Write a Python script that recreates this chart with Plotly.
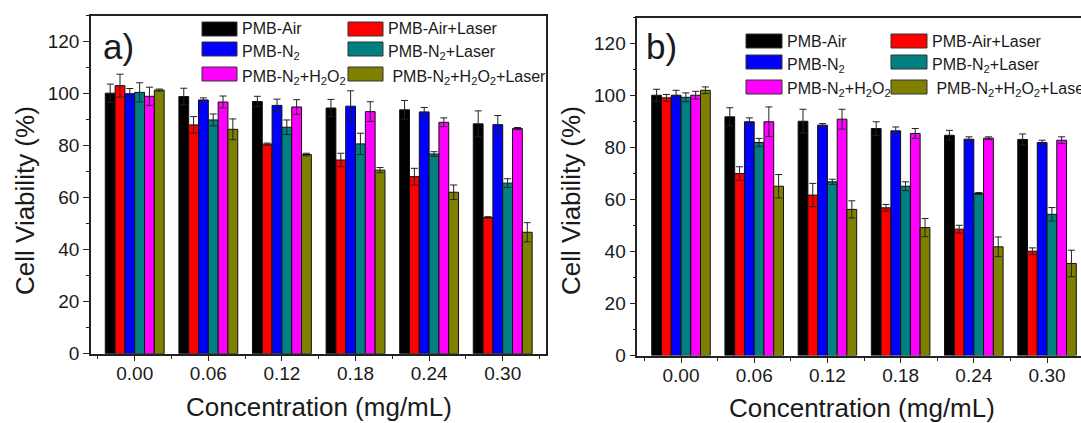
import plotly.graph_objects as go

W, H = 1081, 423

categories = ["0.00", "0.06", "0.12", "0.18", "0.24", "0.30"]
series_names = [
    "PMB-Air",
    "PMB-Air+Laser",
    "PMB-N<sub>2</sub>",
    "PMB-N<sub>2</sub>+Laser",
    "PMB-N<sub>2</sub>+H<sub>2</sub>O<sub>2</sub>",
    " PMB-N<sub>2</sub>+H<sub>2</sub>O<sub>2</sub>+Laser",
]
colors = ["#000000", "#FF0000", "#0000FF", "#008080", "#FF00FF", "#808000"]

# Panel a) values and errors (Cell viability %)
a_air = [100.2, 98.9, 97.0, 94.5, 93.8, 88.4]
a_air_err = [3.5, 3.2, 2.0, 3.3, 3.6, 5.0]
a_air_laser = [103.1, 88.0, 80.6, 74.5, 68.1, 52.4]
a_air_laser_err = [4.4, 3.2, 0.4, 2.6, 3.2, 0.3]
a_n2 = [100.0, 97.6, 95.5, 95.2, 93.0, 88.1]
a_n2_err = [2.0, 0.8, 2.4, 5.9, 1.7, 3.5]
a_n2_laser = [100.5, 89.9, 87.1, 80.7, 76.8, 65.6]
a_n2_laser_err = [3.7, 2.3, 2.8, 4.1, 0.9, 1.7]
a_n2_h2o2 = [99.0, 96.8, 94.9, 93.1, 89.0, 86.6]
a_n2_h2o2_err = [3.5, 2.3, 2.8, 3.8, 1.7, 0.4]
a_n2_h2o2_laser = [101.4, 86.3, 76.6, 70.6, 62.1, 46.7]
a_n2_h2o2_laser_err = [0.4, 4.0, 0.5, 1.0, 2.8, 3.7]

# Panel b) values and errors
b_air = [100.1, 91.8, 90.1, 87.3, 84.7, 83.1]
b_air_err = [2.3, 3.5, 4.6, 2.6, 1.9, 2.1]
b_air_laser = [99.1, 70.0, 61.7, 56.8, 48.6, 40.1]
b_air_laser_err = [1.3, 2.6, 4.5, 1.3, 1.5, 1.3]
b_n2 = [100.1, 89.9, 88.6, 86.4, 83.2, 81.9]
b_n2_err = [1.9, 1.5, 0.6, 1.5, 0.9, 0.9]
b_n2_laser = [99.3, 81.9, 66.8, 65.1, 62.3, 54.3]
b_n2_laser_err = [1.7, 1.6, 1.0, 1.7, 0.4, 2.6]
b_n2_h2o2 = [100.1, 89.9, 90.9, 85.4, 83.6, 82.8]
b_n2_h2o2_err = [1.5, 5.7, 3.8, 1.9, 0.5, 1.3]
b_n2_h2o2_laser = [102.0, 65.1, 56.2, 49.2, 41.8, 35.4]
b_n2_h2o2_laser_err = [1.3, 4.5, 3.3, 3.5, 3.8, 5.1]

panel_a = [(a_air, a_air_err), (a_air_laser, a_air_laser_err), (a_n2, a_n2_err),
           (a_n2_laser, a_n2_laser_err), (a_n2_h2o2, a_n2_h2o2_err),
           (a_n2_h2o2_laser, a_n2_h2o2_laser_err)]
panel_b = [(b_air, b_air_err), (b_air_laser, b_air_laser_err), (b_n2, b_n2_err),
           (b_n2_laser, b_n2_laser_err), (b_n2_h2o2, b_n2_h2o2_err),
           (b_n2_h2o2_laser, b_n2_h2o2_laser_err)]

FONT = "Liberation Sans, Arial, sans-serif"
TXT = "#1a1a1a"
AX = "#222222"


def px(x):
    return x / W


def py(y):
    return 1 - y / H


xpos = list(range(len(categories)))

fig = go.Figure()
for panel, (xa, ya) in ((panel_a, ("x", "y")), (panel_b, ("x2", "y2"))):
    for i, (vals, errs) in enumerate(panel):
        fig.add_trace(go.Bar(
            x=xpos, y=vals, name=series_names[i], xaxis=xa, yaxis=ya,
            marker=dict(color=colors[i], line=dict(color="#111111", width=1)),
            error_y=dict(type="data", array=errs, visible=True, color="#222222",
                         thickness=1, width=3.5),
            showlegend=False,
        ))

# layout geometry (pixels)
A = dict(x0=91, x1=545.7, y0=353.7, xr=[-0.594, 5.584])
B = dict(x0=637.3, x1=1081, y0=355.5, xr=[-0.597, 5.464])
PXU = 2.6  # pixels per % unit
YMAX = 130


def xaxis_cfg(P):
    return dict(
        domain=[px(P["x0"]), px(P["x1"])], range=P["xr"], anchor=None,
        tickmode="array", tickvals=xpos, ticktext=categories,
        ticks="outside", ticklen=6, tickwidth=1.2, tickcolor=AX,
        ticklabelstandoff=-4,
        minor=dict(tickmode="array", tickvals=[v + 0.5 for v in [-1] + xpos],
                   ticks="outside", ticklen=4, tickwidth=1.2, tickcolor=AX),
        showline=True, linecolor=AX, linewidth=1.5, mirror=True,
        showgrid=False, zeroline=False, automargin=False,
        tickfont=dict(family=FONT, size=19, color=TXT),
    )


def yaxis_cfg(P, mirror):
    return dict(
        domain=[py(P["y0"]), py(P["y0"] - YMAX * PXU)], range=[0, YMAX],
        tickmode="linear", tick0=0, dtick=20,
        ticks="outside", ticklen=6, tickwidth=1.2, tickcolor=AX,
        minor=dict(tickmode="linear", tick0=0, dtick=10, ticks="outside",
                   ticklen=3, tickwidth=1.2, tickcolor=AX),
        showline=True, linecolor=AX, linewidth=1.5, mirror=mirror,
        showgrid=False, zeroline=False, automargin=False,
        tickfont=dict(family=FONT, size=19, color=TXT),
    )


xa = xaxis_cfg(A); xa["anchor"] = "y"
xb = xaxis_cfg(B); xb["anchor"] = "y2"
ya = yaxis_cfg(A, True); ya["anchor"] = "x"
yb = yaxis_cfg(B, False); yb["anchor"] = "x2"

annotations = []
shapes = []

# axis titles and panel letters
for P, letter, ytx, yty, xtx, xty, lx, ly in (
        (A, "a)", 25, 201, 318.5, 407, 101, 46),
        (B, "b)", 571, 201, 862, 408, 644, 46)):
    annotations.append(dict(text="Cell Viability (%)", x=px(ytx), y=py(yty), xref="paper",
                            yref="paper", showarrow=False, textangle=-90,
                            font=dict(family=FONT, size=26, color=TXT),
                            xanchor="center", yanchor="middle"))
    annotations.append(dict(text="Concentration (mg/mL)", x=px(xtx), y=py(xty), xref="paper",
                            yref="paper", showarrow=False,
                            font=dict(family=FONT, size=26, color=TXT),
                            xanchor="center", yanchor="middle"))
    annotations.append(dict(text=letter, x=px(lx), y=py(ly), xref="paper", yref="paper",
                            showarrow=False, font=dict(family=FONT, size=35, color=TXT),
                            xanchor="left", yanchor="middle"))

# manual two-column legends
legend_geo = [
    dict(cols=[202, 348], rows=[22, 42, 67], sw=35, sh=14),
    dict(cols=[746, 891], rows=[34, 55, 80], sw=36, sh=14),
]
for g in legend_geo:
    for i, name in enumerate(series_names):
        r, c = divmod(i, 2)
        x0 = g["cols"][c]
        y0 = g["rows"][r]
        shapes.append(dict(type="rect", xref="paper", yref="paper",
                           x0=px(x0), x1=px(x0 + g["sw"]), y0=py(y0 + g["sh"]), y1=py(y0),
                           fillcolor=colors[i], line=dict(color="#333333", width=1)))
        yshift = 0 if "<sub>" not in name else -3
        annotations.append(dict(text=name, x=px(x0 + g["sw"] + 3), y=py(y0 + g["sh"] / 2),
                                xref="paper", yref="paper", showarrow=False,
                                xanchor="left", yanchor="middle", yshift=yshift,
                                font=dict(family=FONT, size=16, color=TXT)))

fig.update_layout(
    width=W, height=H, template="none",
    margin=dict(l=0, r=0, t=0, b=0, pad=0),
    paper_bgcolor="white", plot_bgcolor="white",
    barmode="group", bargap=0.2, bargroupgap=0,
    xaxis=xa, yaxis=ya, xaxis2=xb, yaxis2=yb,
    annotations=annotations, shapes=shapes,
    showlegend=False,
)

fig.write_html("out.html")
